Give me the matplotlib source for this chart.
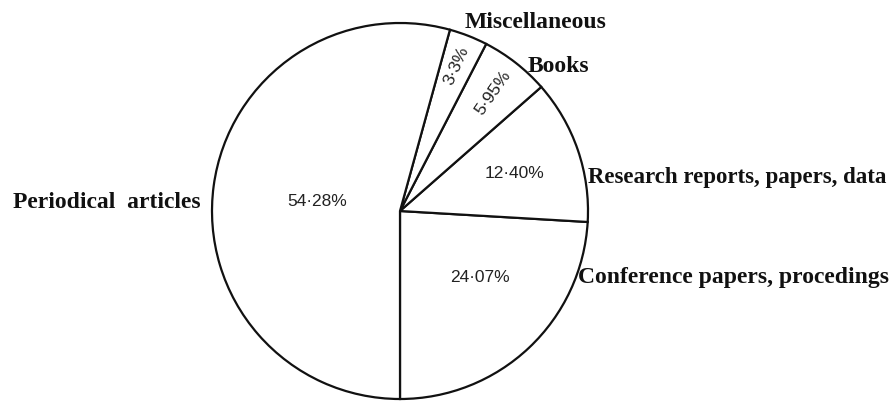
import matplotlib
matplotlib.use("Agg")
import matplotlib.pyplot as plt
import numpy as np

categories = ["Conference papers, procedings", "Research reports, papers, data",
              "Books", "Miscellaneous", "Periodical  articles"]
values = [24.07, 12.40, 5.95, 3.3, 54.28]
pct_labels = ["24·07%", "12·40%", "5·95%", "3·3%", "54·28%"]

W, H = 895, 401
CX, CY, R = 400, 211, 188

fig = plt.figure(figsize=(W / 100, H / 100), dpi=100)
ax = fig.add_axes([0, 0, 1, 1])
wedges, _ = ax.pie(values, startangle=270, counterclock=True, radius=1.0,
                   colors=["white"] * len(values),
                   wedgeprops=dict(edgecolor="#111111", linewidth=1.6))
ax.set_xlim(-CX / R, (W - CX) / R)
ax.set_ylim(-(H - CY) / R, CY / R)
ax.set_aspect("auto")
ax.axis("off")


def px(x, y):
    return (x - CX) / R, (CY - y) / R


# category labels: left edge x, baseline y (pixels)
cat_pos = [(578, 283), (588, 183), (528, 72), (465, 28), (13, 208)]
cat_size = [17, 16.5, 17, 17, 17]
for name, (x, y), fs in zip(categories, cat_pos, cat_size):
    ax.text(*px(x, y), name, ha="left", va="baseline", fontsize=fs,
            fontweight="bold", family="Liberation Serif", color="#111111")

# percentage labels: placed inside wedges
pct_rad = [None, None, 0.80, 0.83, None]
pct_xy = [(480, 277), (515, 173), None, None, (317, 202)]
pct_rot = [0, 0, 55, 66, 0]
for w, lab, r, xy, rot in zip(wedges, pct_labels, pct_rad, pct_xy, pct_rot):
    if xy is not None:
        pos = px(*xy)
    else:
        mid = np.deg2rad((w.theta1 + w.theta2) / 2)
        pos = (r * np.cos(mid), r * np.sin(mid))
    ax.text(*pos, lab, ha="center", va="center", fontsize=12.5,
            family="Liberation Sans", rotation=rot, color="#222222")

fig.savefig("out.png", dpi=100)
